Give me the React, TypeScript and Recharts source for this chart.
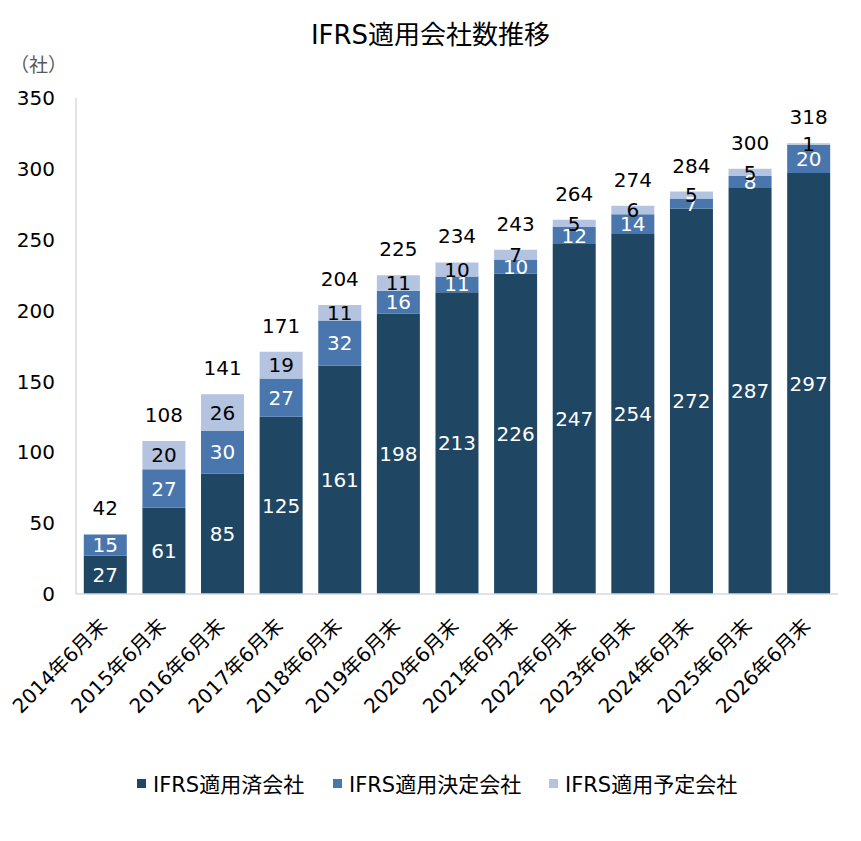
import React from "react"
import { ComposedChart, Bar, Line, XAxis, YAxis, LabelList } from "recharts"

const categories = [
  "2014年6月末",
  "2015年6月末",
  "2016年6月末",
  "2017年6月末",
  "2018年6月末",
  "2019年6月末",
  "2020年6月末",
  "2021年6月末",
  "2022年6月末",
  "2023年6月末",
  "2024年6月末",
  "2025年6月末",
  "2026年6月末",
]
const appliedValues = [27, 61, 85, 125, 161, 198, 213, 226, 247, 254, 272, 287, 297]
const decidedValues = [15, 27, 30, 27, 32, 16, 11, 10, 12, 14, 7, 8, 20]
const plannedValues = [0, 20, 26, 19, 11, 11, 10, 7, 5, 6, 5, 5, 1]
const totalValues = [42, 108, 141, 171, 204, 225, 234, 243, 264, 274, 284, 300, 318]
const yTicks = [0, 50, 100, 150, 200, 250, 300, 350]

const seriesNames = ["IFRS適用済会社", "IFRS適用決定会社", "IFRS適用予定会社"]
const colors = ["#1f4662", "#4a76ae", "#b4c3df"]

const data = categories.map((name, i) => ({
  name,
  applied: appliedValues[i],
  decided: decidedValues[i],
  planned: plannedValues[i],
  total: totalValues[i],
}))

const FONT = '"DejaVu Sans", "Noto Sans CJK JP", sans-serif'

const hideZero = (v: any) => (v ? v : "")

function XTick({ x, y, payload }: any) {
  return (
    <g transform={`translate(${x},${y})`}>
      <text
        x={3}
        y={33}
        textAnchor="end"
        transform="rotate(-45, 3, 33)"
        fontSize={20}
        fontFamily={FONT}
        fill="#000"
      >
        {payload.value}
      </text>
    </g>
  )
}

const legendX = [137, 333, 549]

export default function App() {
  return (
    <div style={{ position: "relative", width: 861, height: 841, fontFamily: FONT, background: "#fff" }}>
      <style>{`body{margin:0}`}</style>
      <div
        style={{
          position: "absolute",
          top: 18,
          left: 0,
          width: 861,
          textAlign: "center",
          fontSize: 26,
          lineHeight: "34px",
          color: "#000",
        }}
      >
        IFRS適用会社数推移
      </div>
      <div
        style={{
          position: "absolute",
          top: 51,
          left: 10,
          fontSize: 19,
          lineHeight: "26px",
          color: "#595959",
          fontFamily: '"Noto Sans CJK JP", sans-serif',
        }}
      >
        （社）
      </div>
      <ComposedChart
        width={861}
        height={841}
        data={data}
        margin={{ top: 98, right: 23, left: 0, bottom: 97 }}
        barCategoryGap="13.3%"
      >
        <XAxis
          dataKey="name"
          interval={0}
          height={150}
          tickLine={false}
          tickSize={0}
          tickMargin={0}
          axisLine={{ stroke: "#d9d9d9", strokeWidth: 1.5 }}
          tick={<XTick />}
        />
        <YAxis
          width={76}
          domain={[0, 350]}
          ticks={yTicks}
          interval={0}
          tickLine={false}
          tickSize={0}
          tickMargin={21}
          axisLine={{ stroke: "#d9d9d9", strokeWidth: 1.5 }}
          tick={{ fontSize: 20, fill: "#000", fontFamily: FONT }}
        />
        <Bar dataKey="applied" stackId="a" fill={colors[0]} isAnimationActive={false}>
          <LabelList dataKey="applied" position="center" fill="#fff" fontSize={20} fontFamily={FONT} formatter={hideZero} />
        </Bar>
        <Bar dataKey="decided" stackId="a" fill={colors[1]} isAnimationActive={false}>
          <LabelList dataKey="decided" position="center" fill="#fff" fontSize={20} fontFamily={FONT} formatter={hideZero} />
        </Bar>
        <Bar dataKey="planned" stackId="a" fill={colors[2]} isAnimationActive={false}>
          <LabelList dataKey="planned" position="center" fill="#000" fontSize={20} fontFamily={FONT} formatter={hideZero} />
        </Bar>
        {/* invisible line only carries the total labels above each stack */}
        <Line
          dataKey="total"
          stroke="none"
          dot={false}
          activeDot={false}
          legendType="none"
          isAnimationActive={false}
        >
          <LabelList dataKey="total" position="top" offset={19} fill="#000" fontSize={20} fontFamily={FONT} />
        </Line>
      </ComposedChart>
      {seriesNames.map((s, i) => (
        <div
          key={s}
          style={{
            position: "absolute",
            left: legendX[i],
            top: 770,
            height: 26,
            display: "flex",
            alignItems: "center",
            fontSize: 21,
            color: "#000",
            whiteSpace: "nowrap",
          }}
        >
          <span style={{ display: "inline-block", width: 9, height: 9, background: colors[i], marginRight: 7 }} />
          {s}
        </div>
      ))}
    </div>
  )
}
